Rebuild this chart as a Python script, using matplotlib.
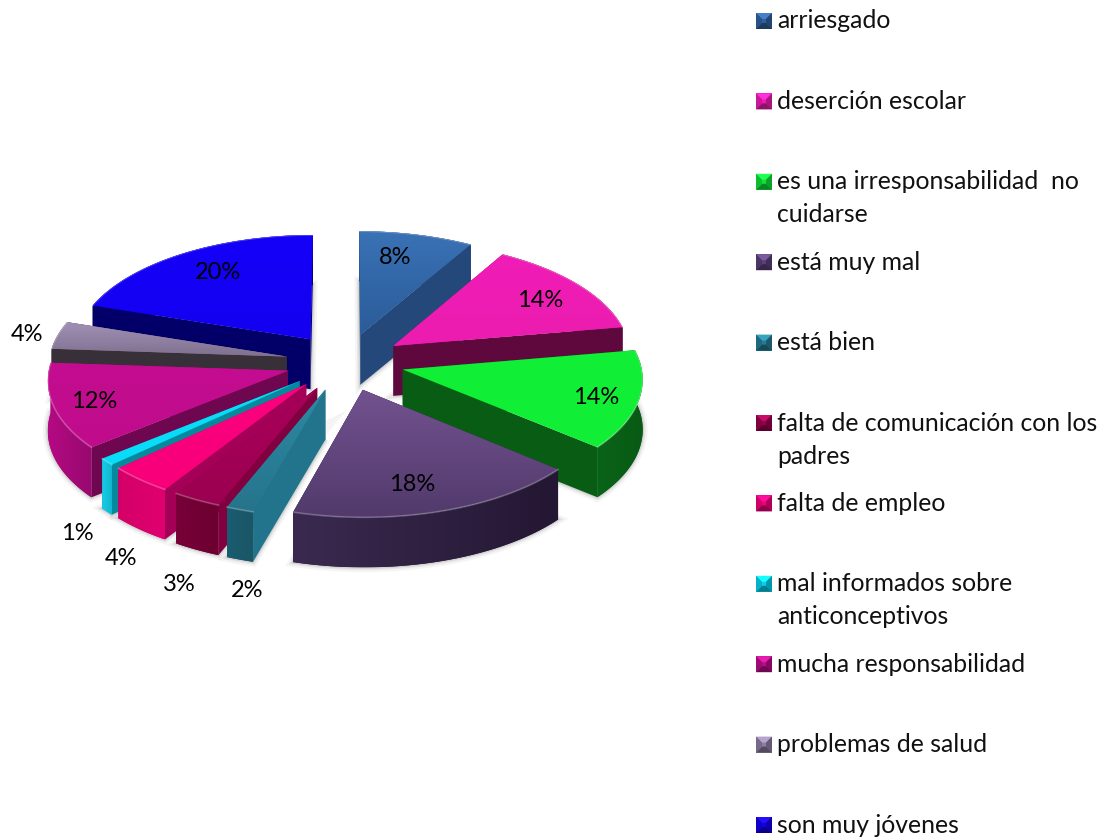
import numpy as np
import matplotlib
matplotlib.use('Agg')
import matplotlib.pyplot as plt
from matplotlib.patches import Polygon
from matplotlib.transforms import Transform

labels = ['arriesgado', 'deserción escolar', 'es una irresponsabilidad  no\ncuidarse',
          'está muy mal', 'está bien', 'falta de comunicación con los\npadres',
          'falta de empleo', 'mal informados sobre\nanticonceptivos',
          'mucha responsabilidad', 'problemas de salud', 'son muy jóvenes']
# labels round these to whole percents
values = [8.4, 13.9, 13.8, 18.3, 1.7, 3, 4, 1, 12, 3.9, 20]

# top face colours (light end, dark end of the gradient)
top_a = ['#3a72b6', '#f01cb6', '#10ee36', '#72528f', '#2c8aa4', '#a8005a',
         '#fa007e', '#08dcf8', '#c40c90', '#a090b4', '#1400f8']
top_b = ['#2a5c98', '#ec1cb0', '#10ee36', '#523a6c', '#26748c', '#9c0050',
         '#f8007a', '#08dcf8', '#c00c8c', '#80708f', '#1400f0']
# wall colours
cut_col = ['#24487a', '#5e083e', '#085c14', '#2a1c3a', '#22748c', '#800040',
           '#a40058', '#048a9c', '#6e0650', '#383038', '#020068']
arc_a = ['#1f3f6c', '#5e083e', '#0a6418', '#3a2a50', '#1a5c70', '#780038',
         '#d40068', '#18cce4', '#b40a84', '#383038', '#020068']
arc_b = ['#1a3558', '#50063a', '#085a14', '#241733', '#1a5666', '#6c0030',
         '#e00070', '#10b8d0', '#98086e', '#383038', '#020068']
# legend swatch colours
key_col = ['#2f5f9c', '#ec1cb0', '#10e038', '#5a4078', '#257c94', '#98004c',
           '#f0007a', '#08d0ec', '#b80c88', '#8c7ca0', '#1400e8']

# centre of each percentage label on the page
label_pos = [(395, 257), (540, 300), (596, 397), (412, 484), (247, 590), (179, 584),
             (121, 558), (77, 533), (94, 401), (27, 334), (218, 272)]

wall = 50


class PieView(Transform):
    """Tilted view of the flat pie, nearer slices come out a bit bigger."""
    input_dims = 2
    output_dims = 2

    def transform_non_affine(self, xy):
        xy = np.asarray(xy, dtype=float)
        w = 1 + 0.07 * xy[:, 1]
        return np.column_stack((345 + 238 * xy[:, 0] / w, 362 - 114.5 * xy[:, 1] / w))


def gradient(patch, pts, c1, c2, vertical, z):
    # colour ramp clipped to a patch
    c1 = np.array(matplotlib.colors.to_rgb(c1))
    c2 = np.array(matplotlib.colors.to_rgb(c2))
    t = np.linspace(0, 1, 64)[:, None]
    img = (c1 * (1 - t) + c2 * t)[:, None, :]
    if not vertical:
        img = img.transpose(1, 0, 2)
    x0, y0 = pts.min(axis=0)
    x1, y1 = pts.max(axis=0)
    im = ax.imshow(img, extent=[x0, x1, y1, y0], aspect='auto', zorder=z, interpolation='bilinear')
    im.set_clip_path(patch)


fig = plt.figure(figsize=(11.04, 8.38), dpi=100)
ax = fig.add_axes([0, 0, 1, 1])
plt.rcParams['font.family'] = ['Lato', 'DejaVu Sans']
font_size = 17.8

wedges, _, pcts = ax.pie(values, explode=[0.25] * len(values), startangle=90, counterclock=False,
                         colors=top_b, autopct='%.0f%%', radius=1)

view = PieView()
to_page = view + ax.transData

# back slices first, front slices paint over them
mids = [np.radians((w.theta1 + w.theta2) / 2) for w in wedges]
order = np.argsort([-np.sin(m) for m in mids])

for rank, i in enumerate(order):
    w = wedges[i]
    z = 2 + rank
    cx, cy = w.center
    th = np.radians(np.linspace(w.theta1, w.theta2, 60))
    rim = view.transform(np.column_stack((cx + np.cos(th), cy + np.sin(th))))
    apex = view.transform(np.array([[cx, cy]]))[0]
    low = rim + [0, wall]

    # soft shadow, only shows on the white page
    for lw, a in ((7, 0.04), (4, 0.06), (2, 0.08)):
        ax.add_patch(Polygon(np.vstack((low, apex + [0, wall])), closed=True, fc='none', ec='black',
                             lw=lw, alpha=a, zorder=1))

    arc = Polygon(np.vstack((rim, low[::-1])), closed=True, fc=arc_b[i], ec='none', zorder=z + 0.2)
    ax.add_patch(arc)
    arc_pts = np.vstack((rim, low))
    gradient(arc, arc_pts, arc_a[i], arc_b[i], False, z + 0.2)

    cut_z = z + 0.3 if np.sin(mids[i]) > 0 else z + 0.1
    for end in (rim[0], rim[-1]):
        face = [apex, end, end + [0, wall], apex + [0, wall]]
        ax.add_patch(Polygon(face, closed=True, fc=cut_col[i], ec='none', zorder=cut_z))

    w.set_transform(to_page)
    w.set_linewidth(0)
    w.set_zorder(z + 0.5)
    top_pts = np.vstack((rim, apex))
    if top_a[i] != top_b[i]:
        gradient(w, top_pts, top_a[i], top_b[i], True, z + 0.6)
    # thin lit edge along the rim
    ax.plot(rim[:, 0], rim[:, 1], color='white', alpha=0.25, lw=1.2, zorder=z + 0.7)

for t, xy in zip(pcts, label_pos):
    t.set_transform(ax.transData)
    t.set_position(xy)
    t.set_ha('center')
    t.set_va('center')
    t.set_fontsize(17)
    t.set_color('black')
    t.set_zorder(50)

# legend down the right side
for i, name in enumerate(labels):
    y = 21 + i * 80.4
    ax.text(777, y, name.split('\n')[0], fontsize=font_size, va='center', ha='left', color='#111111', zorder=50)
    if '\n' in name:
        ax.text(777, y + 33, name.split('\n')[1], fontsize=font_size, va='center', ha='left', color='#111111', zorder=50)
    x0, x1, y0, y1, b = 756, 772, y - 8, y + 8, 6
    base = np.array(matplotlib.colors.to_rgb(key_col[i]))
    outer = [(x0, y0), (x1, y0), (x1, y1), (x0, y1)]
    inner = [(x0 + b, y0 + b), (x1 - b, y0 + b), (x1 - b, y1 - b), (x0 + b, y1 - b)]
    shades = [np.minimum(base * 1.2 + 0.05, 1), base * 0.72, base * 0.6, base * 0.85]
    ax.add_patch(Polygon(outer, closed=True, fc=base, ec='none', zorder=50))
    for k in range(4):
        j = (k + 1) % 4
        ax.add_patch(Polygon([outer[k], outer[j], inner[j], inner[k]], closed=True,
                             fc=shades[k], ec='none', zorder=50))

ax.set_aspect('auto')
ax.set_xlim(0, 1104)
ax.set_ylim(838, 0)
ax.axis('off')

fig.savefig('out.png', dpi=100)
